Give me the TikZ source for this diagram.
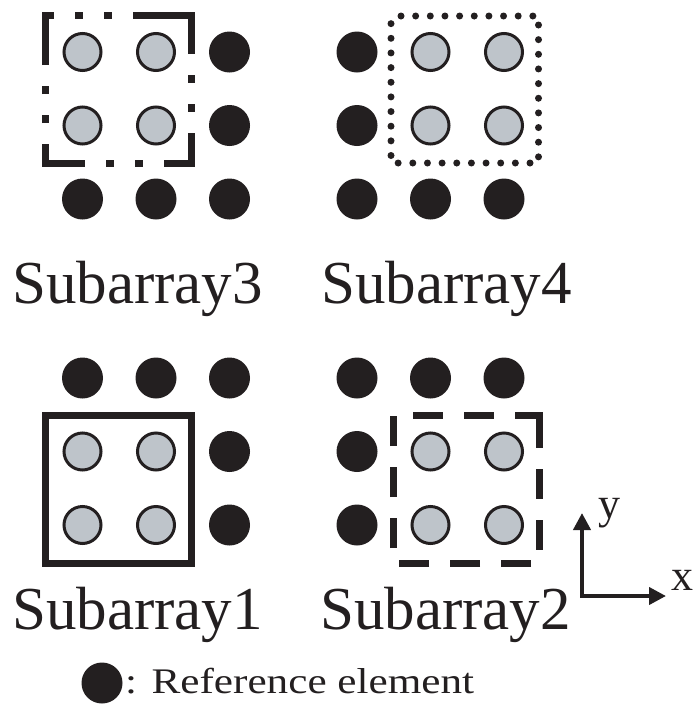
\documentclass[tikz,border=0pt]{standalone}
\usepackage{fontspec}
\setmainfont{Liberation Serif}
\newfontfamily\widefont[FakeStretch=1.2]{Liberation Serif}
\usetikzlibrary{calc,arrows.meta}
\definecolor{elemblack}{RGB}{35,31,32}
\definecolor{elemgray}{RGB}{190,196,202}
\tikzset{
  refel/.style={circle,fill=elemblack,minimum size=41pt,inner sep=0pt},
  subel/.style={circle,draw=elemblack,fill=elemgray,line width=3pt,minimum size=37pt,inner sep=0pt},
  framebox/.style={draw=elemblack,line width=7pt},
  dashdotbox/.style={framebox,dash pattern=on 58pt off 21pt on 8pt off 21pt on 8pt off 21pt},
  dotbox/.style={framebox,line cap=round,dash pattern=on 0pt off 14.65pt,dash phase=7pt},
  dashbox/.style={framebox,dash pattern=on 30pt off 21pt},
  sublabel/.style={anchor=base west,text=elemblack,inner sep=0pt,font=\fontsize{61}{61}\selectfont},
  axlabel/.style={anchor=base,text=elemblack,inner sep=0pt,font=\fontsize{44}{44}\selectfont},
  axis/.style={draw=elemblack,line width=4pt,
    {Triangle[length=17pt,width=17pt]}-{Triangle[length=17pt,width=17pt]}},
}
\begin{document}
\begin{tikzpicture}[x=1pt,y=-1pt]
  \def\p{73.5} % element pitch
  \useasboundingbox (0,0) rectangle (693,726);

  % Subarray3, upper left
  \foreach \i in {0,1} \foreach \j in {0,1}
    \node[subel] (s3-\i\j) at (82.5+\i*\p,52+\j*\p) {};
  \foreach \j in {0,1} \node[refel] (r3-\j) at (82.5+2*\p,52+\j*\p) {};
  \foreach \i in {0,1,2} \node[refel] (r3-b\i) at (82.5+\i*\p,52+2*\p) {};
  \draw[dashdotbox] ($(s3-10)+(16,-36.5)$) -| ($(s3-11)+(35.5,37.5)$)
    -| ($(s3-00)+(-37,-36.5)$) -- cycle;
  \node[sublabel] (t3) at (12,303) {Subarray3};

  % Subarray4, upper right
  \foreach \j in {0,1} \node[refel] (r4-\j) at (357,52+\j*\p) {};
  \foreach \i in {1,2} \foreach \j in {0,1}
    \node[subel] (s4-\i\j) at (357+\i*\p,52+\j*\p) {};
  \foreach \i in {0,1,2} \node[refel] (r4-b\i) at (357+\i*\p,52+2*\p) {};
  \draw[dotbox] ($(s4-10)+(-39.5,-36)$) rectangle ($(s4-21)+(34.5,37.5)$);
  \node[sublabel] (t4) at (321,303) {Subarray4};

  % Subarray1, lower left
  \foreach \i in {0,1,2} \node[refel] (r1-t\i) at (82.5+\i*\p,378) {};
  \foreach \i in {0,1} \foreach \j in {1,2}
    \node[subel] (s1-\i\j) at (82.5+\i*\p,378+\j*\p) {};
  \foreach \j in {1,2} \node[refel] (r1-\j) at (82.5+2*\p,378+\j*\p) {};
  \draw[framebox] ($(s1-01)+(-37,-36)$) rectangle ($(s1-12)+(35.5,38)$);
  \node[sublabel] (t1) at (12,629) {Subarray1};

  % Subarray2, lower right
  \foreach \i in {0,1,2} \node[refel] (r2-t\i) at (357+\i*\p,378) {};
  \foreach \j in {1,2} \node[refel] (r2-\j) at (357,378+\j*\p) {};
  \foreach \i in {1,2} \foreach \j in {1,2}
    \node[subel] (s2-\i\j) at (357+\i*\p,378+\j*\p) {};
  \draw[dashbox] ($(s2-21)+(35,-33.5)$) -- ($(s2-22)+(35,38)$)
    -| ($(s2-11)+(-37.5,-36.5)$) -- ($(s2-21)+(35,-36.5)$) -- cycle;
  \node[sublabel] (t2) at (320,629) {Subarray2};

  % axes
  \coordinate (o) at (582,596);
  \coordinate (xe) at (666,596);
  \coordinate (ye) at (582,513);
  \draw[axis] (ye) -- (o) -- (xe);
  \node[axlabel] (xl) at (682,590) {x};
  \node[axlabel] (yl) at (609,518) {y};

  % legend
  \node[refel] (key) at (102,683) {};
  \node[anchor=base west,text=elemblack,inner sep=0pt,
    font=\widefont\fontsize{36}{36}\selectfont] (keytext) at (125,693) {: Reference element};
\end{tikzpicture}
\end{document}
